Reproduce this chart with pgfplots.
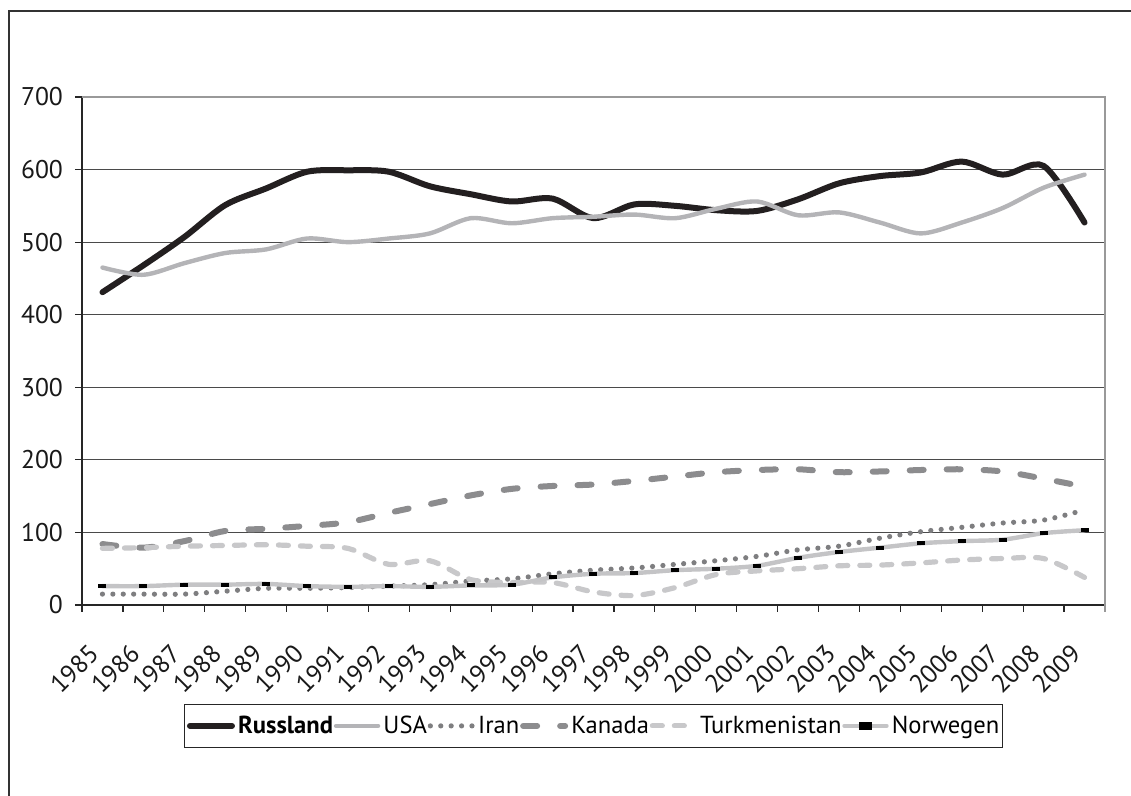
\documentclass[border=0pt]{standalone}
\usepackage{pgfplots}
\pgfplotsset{compat=1.18}
\usepackage{pgfplotstable}
\usepackage{fontspec}
\setmainfont{PT Sans}
\definecolor{rus}{HTML}{231F20}
\definecolor{usa}{HTML}{B4B4B7}
\definecolor{iran}{HTML}{7E7E80}
\definecolor{kan}{HTML}{8C8C8E}
\definecolor{turk}{HTML}{C8C8CA}
\definecolor{nor}{HTML}{C4C4C6}
\definecolor{gridc}{HTML}{4A4A4A}
\pgfplotstableread{
x Russland USA Iran Kanada Turk Norwegen
0 431 465 15 84 78 26
1 468 455 15 79 79 26
2 507 471 15 88 81 28
3 551 485 19 102 82 28
4 574 490 23 105 83 29
5 597 505 23 109 81 26
6 599 500 24 114 78 25
7 597 505 26 127 56 26
8 577 512 28 139 61 25
9 566 533 33 151 35 27
10 556 526 36 160 31 28
11 560 533 43 164 31 38
12 533 535 48 166 18 43
13 552 538 51 171 13 44
14 550 533 56 177 24 48
15 544 546 61 183 42 50
16 543 556 67 186 47 54
17 559 537 76 187 50 65
18 581 541 81 183 54 73
19 591 527 92 184 55 79
20 596 512 101 186 58 85
21 611 527 107 187 62 88
22 593 547 113 184 64 90
23 605 575 117 174 64 99
24 527 593 131 163 38 103
}\data
\begin{document}
\begin{tikzpicture}
\path[use as bounding box] (-41pt,-95.5pt) rectangle (524.5pt,302.5pt);
\draw[line width=0.75pt, color=black!80] (-36.5pt,-95.5pt) -- (-36.5pt,297pt) -- (524.5pt,297pt);
\begin{axis}[
  at={(0pt,0pt)}, anchor=south west,
  scale only axis, width=511.5pt, height=254pt,
  xmin=-0.5, xmax=24.5, ymin=0, ymax=700,
  axis lines=left, axis line style={-, line width=0.6pt, color=black!85},
  tick align=outside,
  xtick={0,...,24},
  xticklabels={1985,1986,1987,1988,1989,1990,1991,1992,1993,1994,1995,1996,1997,1998,1999,2000,2001,2002,2003,2004,2005,2006,2007,2008,2009},
  minor xtick={-0.5,0.5,...,24.5},
  major x tick style={draw=none},
  minor tick length=3.5pt, major tick length=3.5pt,
  every tick/.style={black!85, line width=0.6pt},
  ytick={0,100,...,700},
  ymajorgrids, xmajorgrids=false, grid style={color=gridc, line width=0.6pt},
  /pgf/number format/assume math mode=true,
  tick label style={font=\fontsize{12.8}{15}\selectfont, text=black!90},
  xticklabel style={inner sep=0pt, yshift=-15pt, xshift=-7.5pt, rotate=45, anchor=north east},
  yticklabel style={xshift=-2.5pt},
  clip=false,
  legend columns=6,
  legend style={at={(0.5,-0.238)}, anchor=center, draw=black!85, line width=0.5pt,
    font=\fontsize{12.3}{14}\selectfont, inner xsep=1pt, inner ysep=4.5pt,
    nodes={inner xsep=0.4pt, inner ysep=1pt},
    /tikz/every odd column/.append style={column sep=1.2pt}},
  legend image code/.code={\draw[#1] plot coordinates {(0pt,0pt) (21pt,0pt)};},
]
\draw[color=black!40, line width=0.7pt] (rel axis cs:0,1) -- (rel axis cs:1,1) -- (rel axis cs:1,-0.014);
\addplot[rus, line width=3pt, smooth, line cap=round] table[x=x, y=Russland] {\data};
\addlegendentry{\textbf{Russland}}
\addplot[usa, line width=2.2pt, smooth, line cap=round] table[x=x, y=USA] {\data};
\addlegendentry{USA}
\addplot[iran, line width=2.6pt, smooth, line cap=round, dash pattern=on 0pt off 5.2pt] table[x=x, y=Iran] {\data};
\addlegendentry{Iran}
\addplot[kan, line width=3pt, smooth, line cap=round, dash pattern=on 7pt off 11.5pt] table[x=x, y=Kanada] {\data};
\addlegendentry{Kanada}
\addplot[turk, line width=2.6pt, smooth, line cap=round, dash pattern=on 5pt off 6pt] table[x=x, y=Turk] {\data};
\addlegendentry{Turkmenistan}
\addplot[nor, line width=2.2pt, smooth, line cap=round,
  legend image code/.code={\draw[nor, line width=2.2pt, line cap=round] (0pt,0pt) -- (21pt,0pt); \fill[black] (8.5pt,-1pt) rectangle (12.5pt,1pt);}] table[x=x, y=Norwegen] {\data};
\addlegendentry{Norwegen}
\addplot[black, only marks, mark=-, mark size=2pt, line width=2pt, forget plot] table[x=x, y=Norwegen] {\data};
\end{axis}
\end{tikzpicture}
\end{document}
